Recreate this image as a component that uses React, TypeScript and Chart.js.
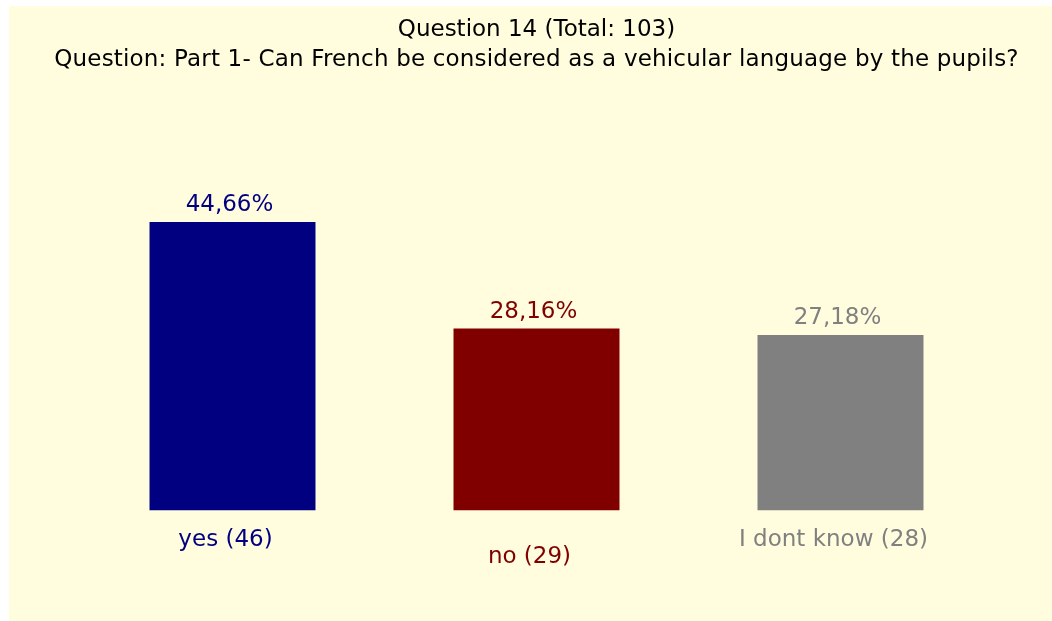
import { useEffect, useRef } from "react";
import { Chart, registerables } from "chart.js";

Chart.register(...registerables);

const titleLines = [
  "Question 14 (Total: 103)",
  "Question: Part 1- Can French be considered as a vehicular language by the pupils?",
];
const categories = ["yes (46)", "no (29)", "I dont know (28)"];
const percentages = [44.66, 28.16, 27.18];
const valueLabels = ["44,66%", "28,16%", "27,18%"];
const barColors = ["#000080", "#800000", "#808080"];
const yMax = 50;

const FONT = '23px "DejaVu Sans", sans-serif';
const BG = "#FFFDDE";

const decorPlugin = {
  id: "decor",
  beforeDraw(chart: any) {
    const ctx = chart.ctx;
    ctx.save();
    ctx.fillStyle = "#FFFFFF";
    ctx.fillRect(0, 0, chart.width, chart.height);
    ctx.fillStyle = BG;
    ctx.fillRect(9, 6, chart.width - 9, chart.height - 6);
    ctx.restore();
  },
  afterDatasetsDraw(chart: any) {
    const ctx = chart.ctx;
    const area = chart.chartArea;
    const cx = (area.left + area.right) / 2;
    ctx.save();
    ctx.font = FONT;
    ctx.textAlign = "center";
    ctx.textBaseline = "alphabetic";
    ctx.fillStyle = "#000000";
    ctx.fillText(titleLines[0], cx, 36);
    if ("letterSpacing" in ctx) (ctx as any).letterSpacing = "0.18px";
    ctx.fillText(titleLines[1], cx, 66);
    if ("letterSpacing" in ctx) (ctx as any).letterSpacing = "0px";
    const meta = chart.getDatasetMeta(0);
    meta.data.forEach((bar: any, i: number) => {
      ctx.fillStyle = barColors[i];
      ctx.fillText(valueLabels[i], bar.x - 3, bar.y - 11);
      const labelY = i === 1 ? bar.base + 52 : bar.base + 35;
      ctx.fillText(categories[i], bar.x - 7, labelY);
    });
    ctx.restore();
  },
};

export default function App() {
  const ref = useRef<HTMLCanvasElement>(null);
  useEffect(() => {
    if (!ref.current) return;
    const chart = new Chart(ref.current, {
      type: "bar",
      data: {
        labels: categories,
        datasets: [
          {
            data: percentages,
            backgroundColor: barColors,
            borderWidth: 0,
            barPercentage: 0.546,
            categoryPercentage: 1,
          },
        ],
      },
      options: {
        responsive: false,
        maintainAspectRatio: false,
        animation: false,
        layout: { padding: { left: 80.5, right: 59.5, top: 187.5, bottom: 110.5 } },
        scales: {
          x: { display: false, offset: true },
          y: { display: false, min: 0, max: yMax },
        },
        plugins: {
          legend: { display: false },
          tooltip: { enabled: false },
          title: { display: false },
        },
      },
      plugins: [decorPlugin],
    });
    return () => chart.destroy();
  }, []);
  return (
    <div style={{ position: "fixed", left: 0, top: 0, width: 1052, height: 621 }}>
      <canvas ref={ref} width={1052} height={621} style={{ display: "block", width: 1052, height: 621 }} />
    </div>
  );
}
